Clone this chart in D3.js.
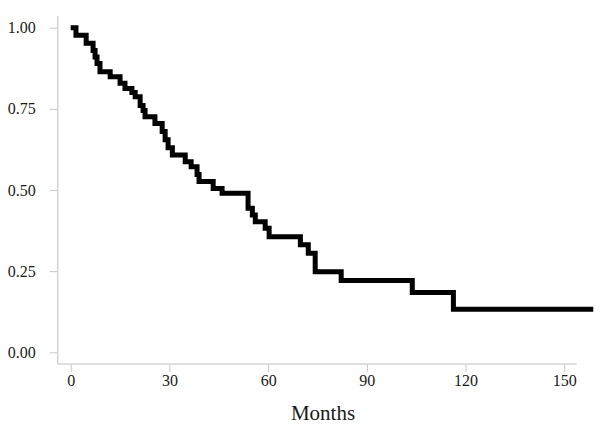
<!DOCTYPE html>
<html>
<head>
<meta charset="utf-8">
<script src="https://cdn.jsdelivr.net/npm/d3@7"></script>
<style>
  body { margin: 0; background: #fff; }
  svg text { font-family: "Liberation Serif", "Times New Roman", serif; fill: #1a1a1a; }
</style>
</head>
<body>
<div id="chart"></div>
<script>
// Kaplan-Meier estimate
var months = [0, 1.6, 4.7, 6.8, 7.4, 8.0, 8.9, 12.0, 15.0, 16.5, 18.6, 19.6, 21.1, 22.0, 22.6,
  25.6, 27.8, 28.7, 29.6, 30.9, 34.8, 36.6, 38.4, 39.0, 43.3, 46.0, 53.9, 55.2, 56.1,
  59.1, 60.3, 69.8, 72.2, 74.3, 82.2, 103.8, 116.3, 158.8];
var survival = [1.0, 0.977, 0.952, 0.93, 0.91, 0.89, 0.864, 0.849, 0.829, 0.813, 0.80, 0.787,
  0.76, 0.745, 0.726, 0.705, 0.68, 0.655, 0.63, 0.608, 0.587, 0.572, 0.548, 0.526, 0.505,
  0.49, 0.444, 0.423, 0.402, 0.382, 0.356, 0.331, 0.305, 0.248, 0.221, 0.184, 0.133, 0.133];
var xTicks = [0, 30, 60, 90, 120, 150];
var yTicks = [0, 0.25, 0.5, 0.75, 1];

var width = 600, height = 434;

var svg = d3.select("#chart").append("svg")
  .attr("width", width)
  .attr("height", height);

var x = d3.scaleLinear().domain([0, 150]).range([70.7, 564.3]);
var y = d3.scaleLinear().domain([0, 1]).range([352.3, 27.7]);

var plotLeft = 57.7, plotRight = 576.7, plotTop = 16, plotBottom = 364;

// axes
var xAxis = svg.append("g")
  .attr("transform", "translate(0," + plotBottom + ")")
  .call(d3.axisBottom(x).tickValues(xTicks).tickSize(8).tickPadding(3).tickSizeOuter(0));
xAxis.select(".domain").remove();
xAxis.append("line")
  .attr("x1", plotLeft).attr("x2", plotRight)
  .attr("stroke", "#d4d4d4").attr("stroke-width", 1.5);

var yAxis = svg.append("g")
  .attr("transform", "translate(" + plotLeft + ",0)")
  .call(d3.axisLeft(y).tickValues(yTicks).tickFormat(d3.format(".2f")).tickSize(8).tickPadding(14));
yAxis.select(".domain").remove();
yAxis.append("line")
  .attr("y1", plotTop).attr("y2", plotBottom)
  .attr("stroke", "#d4d4d4").attr("stroke-width", 1.5);

svg.selectAll(".tick line").attr("stroke", "#c8c8c8").attr("stroke-width", 1);
svg.selectAll(".tick text").attr("font-size", 16).attr("fill", "#1a1a1a");

// survival curve
var line = d3.line()
  .x(function (d, i) { return x(months[i]); })
  .y(function (d) { return y(d); })
  .curve(d3.curveStepAfter);

svg.append("path")
  .datum(survival)
  .attr("d", line)
  .attr("fill", "none")
  .attr("stroke", "#000")
  .attr("stroke-width", 5)
  .attr("stroke-linejoin", "miter");

svg.append("text")
  .attr("x", 323)
  .attr("y", 420)
  .attr("text-anchor", "middle")
  .attr("font-size", 21)
  .text("Months");
</script>
</body>
</html>
